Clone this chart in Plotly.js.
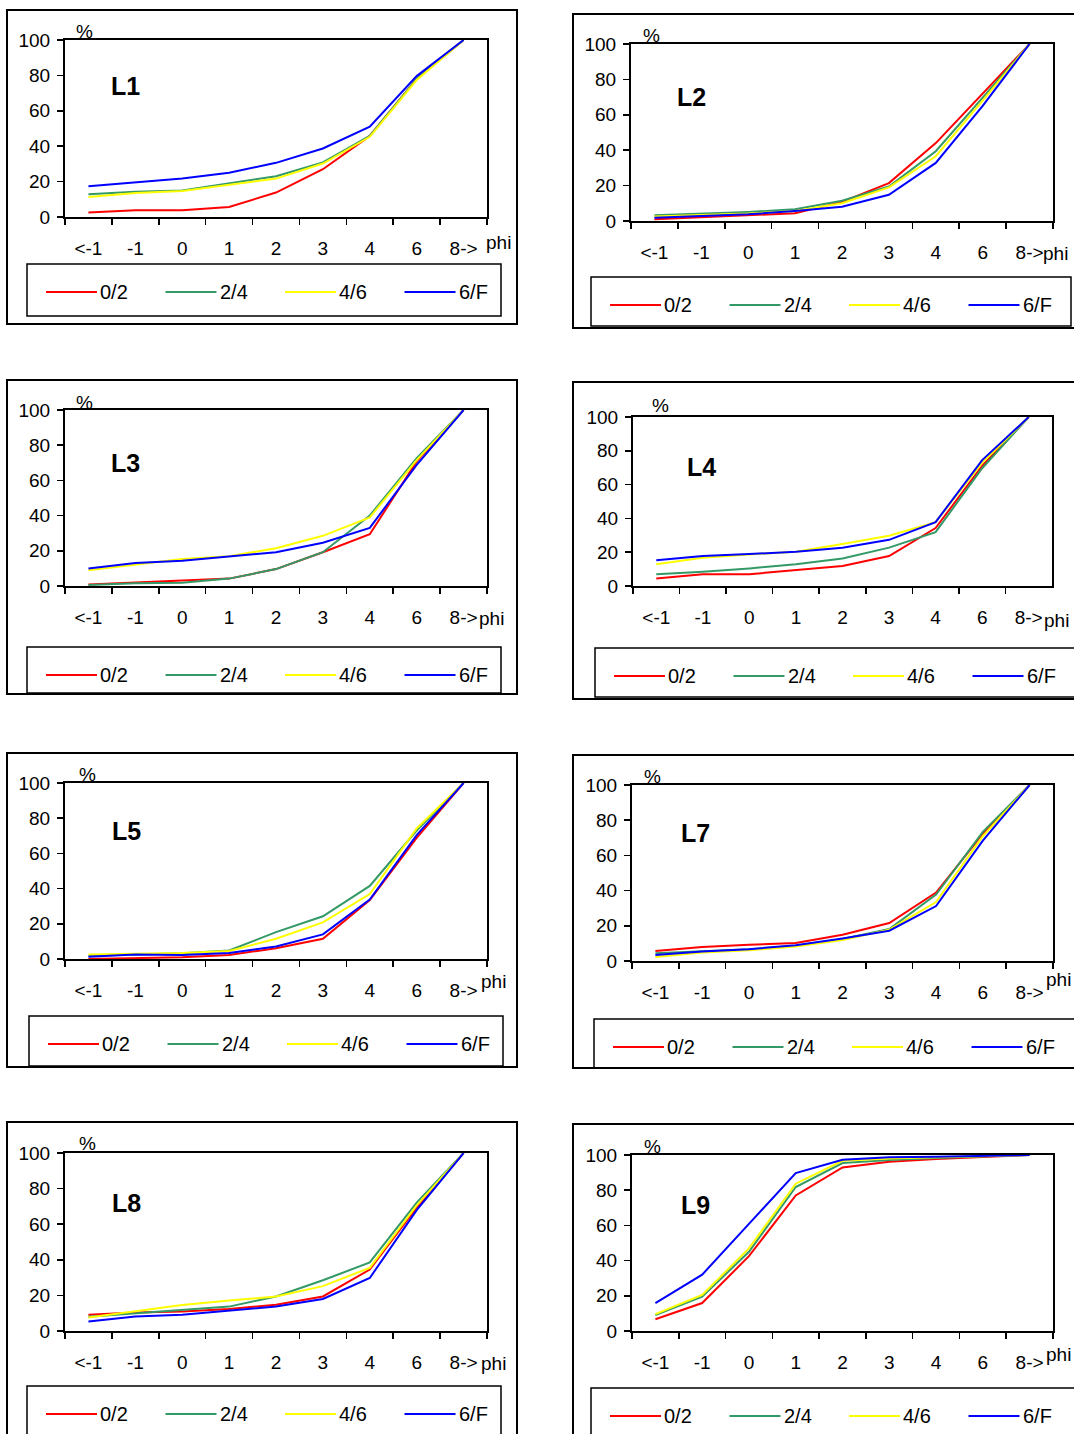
<!DOCTYPE html>
<html>
<head>
<meta charset="utf-8">
<script src="https://cdn.plot.ly/plotly-3.0.1.min.js"></script>
<style>
html,body{margin:0;padding:0;background:#fff;}
#chart{width:1074px;height:1434px;}
</style>
</head>
<body>
<div id="chart"></div>
<script>
// ---------------- DATA ----------------
const categories = ["<-1", "-1", "0", "1", "2", "3", "4", "6", "8->"];
const seriesNames = ["0/2", "2/4", "4/6", "6/F"];
const yTicks = [0, 20, 40, 60, 80, 100];
const panelNames = ["L1", "L2", "L3", "L4", "L5", "L7", "L8", "L9"];
const xAxisLabel = "phi";
const yAxisLabel = "%";

const L1_02 = [2.6, 3.8, 3.8, 5.7, 13.8, 27, 45.8, 78, 100];
const L1_24 = [12.8, 14.2, 15, 18.9, 23, 30.8, 45.8, 78, 100];
const L1_46 = [11.3, 13.6, 14.7, 18.3, 21.7, 30.2, 45.3, 77.4, 100];
const L1_6F = [17.4, 19.4, 21.7, 25, 30.6, 38.7, 51, 79.6, 100];

const L2_02 = [1, 2, 3.2, 4.4, 10.8, 21.4, 44, 72, 100];
const L2_24 = [3.2, 4.2, 5.1, 6.6, 11.4, 19.5, 39.4, 69.7, 100];
const L2_46 = [2.5, 3.2, 4.2, 5.7, 10, 19, 36.6, 68, 100];
const L2_6F = [1.9, 2.7, 3.8, 5.7, 8, 14.8, 32.8, 65, 100];

const L3_02 = [0.8, 1.9, 2.9, 4.2, 9.6, 19.2, 29.4, 70.8, 100];
const L3_24 = [0.6, 1.5, 1.9, 4.2, 9.6, 19.2, 40, 72.7, 100];
const L3_46 = [9, 12.1, 15.4, 16.9, 21.5, 28.5, 39, 71.5, 100];
const L3_6F = [10, 13, 14.4, 16.7, 19.2, 24.6, 33, 68.8, 100];

const L4_02 = [4.4, 7, 7, 9.4, 11.8, 17.7, 34.3, 71, 100];
const L4_24 = [7, 8.4, 10.4, 12.9, 16.3, 22.7, 31.9, 69.7, 100];
const L4_46 = [12.9, 16.7, 18.7, 20.3, 24.9, 29.7, 37.8, 73, 100];
const L4_6F = [15.3, 17.7, 18.9, 20.3, 22.7, 27.3, 37.8, 74.5, 100];

const L5_02 = [0, 0.4, 1, 2.3, 6.1, 11.5, 33.5, 68.8, 100];
const L5_24 = [1.9, 2.7, 3.3, 4.8, 15.3, 24.3, 41.5, 73, 100];
const L5_46 = [2.5, 2.9, 3.4, 4.6, 11.5, 20.8, 36.9, 74.2, 100];
const L5_6F = [1.3, 2.5, 2.3, 3.4, 7.1, 14, 33.8, 70.4, 100];

const L7_02 = [5.7, 8, 9.2, 10.2, 14.9, 21.6, 38.9, 72.2, 100];
const L7_24 = [4.4, 5.7, 6.7, 8.6, 12.5, 18.2, 37.7, 73.4, 100];
const L7_46 = [2.3, 4.8, 6.1, 8.2, 11.9, 17.8, 33.5, 70.9, 100];
const L7_6F = [3.4, 5.4, 6.7, 9, 12.8, 17.2, 31.2, 68.4, 100];

const L8_02 = [9.1, 10.4, 11, 12.3, 14.8, 19.4, 34.5, 69.3, 100];
const L8_24 = [8, 9.9, 11.4, 13.7, 19.4, 28.5, 38.5, 72.1, 100];
const L8_46 = [7.6, 11, 14.6, 17.1, 19.4, 25.2, 35.5, 70.6, 100];
const L8_6F = [5.3, 8.2, 9.1, 11.4, 13.7, 18, 29.8, 67.9, 100];

const L9_02 = [6.7, 15.9, 42.5, 77, 92.9, 96.2, 97.7, 98.7, 100];
const L9_24 = [9, 19.5, 45, 81.8, 95.4, 97.1, 98.3, 99, 100];
const L9_46 = [9.6, 20.5, 46.9, 83.7, 96.7, 98, 98.7, 99.2, 100];
const L9_6F = [15.9, 32, 60.9, 89.7, 97.3, 98.7, 99, 99.4, 100];

const panelSeries = [
  [L1_02, L1_24, L1_46, L1_6F],
  [L2_02, L2_24, L2_46, L2_6F],
  [L3_02, L3_24, L3_46, L3_6F],
  [L4_02, L4_24, L4_46, L4_6F],
  [L5_02, L5_24, L5_46, L5_6F],
  [L7_02, L7_24, L7_46, L7_6F],
  [L8_02, L8_24, L8_46, L8_6F],
  [L9_02, L9_24, L9_46, L9_6F]
];

// ---------------- STYLE / LAYOUT ----------------
const seriesColors = ["#FF0000", "#339966", "#FFFF00", "#0000FF"];
const FONT = "Liberation Sans, Arial, Helvetica, sans-serif";
const FS = 19;
const W = 1074, H = 1434;

// geometry in pixels: plot [x0,y0,x1,y1], frame, legend box, tag [x,y], pct [cx,cy], phi [x,y]
const geom = [
  {plot:[65,40,487,217],   frame:[7,10,517,324],     leg:[27,264,501,316],    tag:[109,86],   pct:[84,31],   phi:[484,242]},
  {plot:[631,44,1053,221], frame:[573,14,1090,328],  leg:[591,277,1071,326],  tag:[675,97],   pct:[651,35],  phi:[1041,253]},
  {plot:[65,410,487,586],  frame:[7,380,517,694],    leg:[27,647,501,693],    tag:[109,463],  pct:[84,402],  phi:[477,618]},
  {plot:[633,417,1052,586],frame:[573,382,1090,699], leg:[595,648,1078,697],  tag:[685,467],  pct:[660,405], phi:[1042,620]},
  {plot:[65,783,487,959],  frame:[7,753,517,1067],   leg:[29,1016,503,1066],  tag:[110,831],  pct:[87,774],  phi:[479,981]},
  {plot:[632,785,1053,961],frame:[573,755,1090,1068],leg:[594,1019,1076,1068],tag:[679,833],  pct:[652,776], phi:[1044,979]},
  {plot:[65,1153,487,1331],frame:[7,1122,517,1450],  leg:[27,1386,501,1450],  tag:[110,1203], pct:[87,1143], phi:[479,1363]},
  {plot:[632,1155,1053,1331],frame:[573,1124,1090,1450],leg:[591,1388,1078,1450],tag:[679,1205],pct:[652,1146],phi:[1044,1354]}
];

const px = x => x / W;
const py = y => 1 - y / H;

const traces = [];
const layout = {
  width: W, height: H,
  margin: {l:0, r:0, t:0, b:0},
  showlegend: false,
  paper_bgcolor: "#ffffff",
  plot_bgcolor: "#ffffff",
  font: {family: FONT, size: FS, color: "#000"},
  shapes: [],
  annotations: []
};

panelNames.forEach((name, i) => {
  const n = i + 1;
  const suf = n === 1 ? "" : String(n);
  const xa = "x" + suf, ya = "y" + suf;
  const g = geom[i];

  panelSeries[i].forEach((vals, s) => {
    traces.push({
      type: "scatter", mode: "lines",
      x: categories, y: vals,
      xaxis: xa, yaxis: ya,
      name: seriesNames[s],
      line: {color: seriesColors[s], width: 2},
      hoverinfo: "skip"
    });
  });

  layout["xaxis" + suf] = {
    domain: [px(g.plot[0]), px(g.plot[2])],
    anchor: ya,
    type: "category",
    categoryorder: "array",
    categoryarray: categories,
    range: [-0.5, categories.length - 0.5],
    tickson: "boundaries",
    ticks: "outside", ticklen: 6, tickwidth: 1.5, tickcolor: "#000",
    showline: true, linecolor: "#000", linewidth: 2, mirror: true,
    showgrid: false, zeroline: false, fixedrange: true,
    ticklabelstandoff: 13,
    tickfont: {family: FONT, size: FS, color: "#000"}
  };
  layout["yaxis" + suf] = {
    domain: [py(g.plot[3]), py(g.plot[1])],
    anchor: xa,
    range: [0, 100],
    tickmode: "array", tickvals: yTicks, ticktext: yTicks.map(String),
    ticks: "outside", ticklen: 6, tickwidth: 1.5, tickcolor: "#000",
    showline: true, linecolor: "#000", linewidth: 2, mirror: true,
    showgrid: false, zeroline: false, fixedrange: true,
    ticklabelstandoff: 3,
    tickfont: {family: FONT, size: FS, color: "#000"}
  };

  // outer chart frame
  layout.shapes.push({type:"rect", xref:"paper", yref:"paper",
    x0:px(g.frame[0]), x1:px(g.frame[2]), y0:py(g.frame[3]), y1:py(g.frame[1]),
    line:{color:"#000", width:2}, fillcolor:"rgba(0,0,0,0)"});
  // legend box
  layout.shapes.push({type:"rect", xref:"paper", yref:"paper",
    x0:px(g.leg[0]), x1:px(g.leg[2]), y0:py(g.leg[3]), y1:py(g.leg[1]),
    line:{color:"#000", width:1.5}, fillcolor:"rgba(0,0,0,0)"});
  // legend entries
  const ly = g.leg[1] + 28;
  seriesNames.forEach((sn, s) => {
    const lx = g.leg[0] + 19 + s * 119.5;
    layout.shapes.push({type:"line", xref:"paper", yref:"paper",
      x0:px(lx), x1:px(lx + 51), y0:py(ly), y1:py(ly),
      line:{color:seriesColors[s], width:2}});
    layout.annotations.push({xref:"paper", yref:"paper", x:px(lx + 52), y:py(ly),
      xanchor:"left", yanchor:"middle", showarrow:false, text:sn,
      font:{family:FONT, size:20, color:"#000"}});
  });
  // panel tag
  layout.annotations.push({xref:"paper", yref:"paper", x:px(g.tag[0]), y:py(g.tag[1]),
    xanchor:"left", yanchor:"middle", showarrow:false, text:"<b>" + name + "</b>",
    font:{family:FONT, size:25, color:"#000"}});
  // % label
  layout.annotations.push({xref:"paper", yref:"paper", x:px(g.pct[0]), y:py(g.pct[1]),
    xanchor:"center", yanchor:"middle", showarrow:false, text:yAxisLabel,
    font:{family:FONT, size:FS, color:"#000"}});
  // phi label
  layout.annotations.push({xref:"paper", yref:"paper", x:px(g.phi[0]), y:py(g.phi[1]),
    xanchor:"left", yanchor:"middle", showarrow:false, text:xAxisLabel,
    font:{family:FONT, size:FS, color:"#000"}});
});

Plotly.newPlot("chart", traces, layout, {staticPlot:true, displayModeBar:false});
</script>
</body>
</html>
